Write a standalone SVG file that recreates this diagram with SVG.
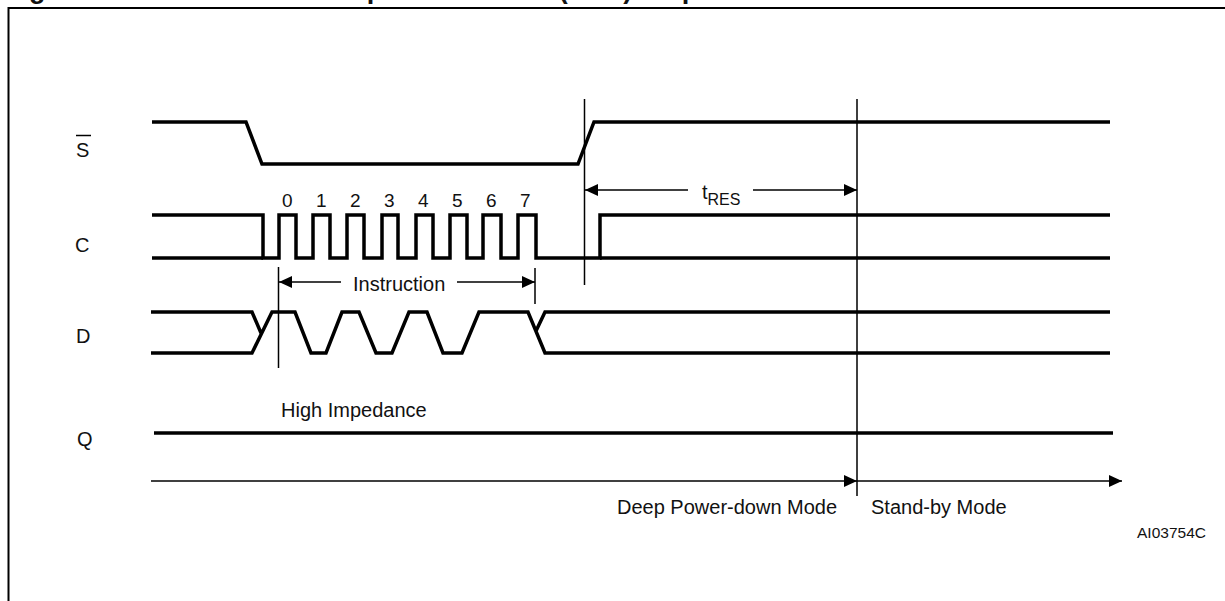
<svg xmlns="http://www.w3.org/2000/svg" width="1225" height="601" viewBox="0 0 1225 601">
<style>
text{font-family:"Liberation Sans",Arial,sans-serif;font-size:20px;fill:#111}
.w{fill:none;stroke:#000;stroke-width:3.5;stroke-linejoin:miter}
.t{fill:none;stroke:#000;stroke-width:1.5}
.d{font-size:19px}
</style>
<defs><marker id="a" markerUnits="userSpaceOnUse" markerWidth="14" markerHeight="14" refX="13" refY="7" orient="auto"><path d="M0 1L13 7L0 13z" fill="#000"/></marker></defs>
<rect width="1225" height="601" fill="#fff"/>
<text id="title" x="5" y="-2" style="font-weight:bold;font-size:27px">Figure 22. Release from Deep Power-down (RES) Sequence</text>
<path d="M8.500 601V8H1225" fill="none" stroke="#000" stroke-width="2"/>
<g id="connectors">
<path class="t" d="M584.500 99V285M857 99V496M278.500 267V368M535 268V304"/>
<path class="t" d="M341 282H279" marker-end="url(#a)"/>
<path class="t" d="M457 282H535" marker-end="url(#a)"/>
<path class="t" d="M688 190H585" marker-end="url(#a)"/>
<path class="t" d="M753 190H857" marker-end="url(#a)"/>
<path class="t" d="M151 481H857" marker-end="url(#a)"/>
<path class="t" d="M857 481H1122" marker-end="url(#a)"/>
</g>
<g id="signal-S"><path class="w" d="M152 122H246L262 164H578L594 122H1110"/><text x="76" y="157">S</text><path d="M76 135.500H91" stroke="#000" stroke-width="1.500"/></g>
<g id="signal-C"><path class="w" d="M152 215H263V258H279V215H296V258H313V215H330V258H347V215H364V258H382V215H398V258H416V215H433V258H450V215H467V258H483V215H501V258H518V215H536V258H600V215H1110"/><path class="w" d="M152 258H263"/><path class="w" d="M600 258H1110"/><text x="75" y="252">C</text></g>
<g id="clock-numbers"><text class="d" x="282" y="207">0</text><text class="d" x="316" y="207">1</text><text class="d" x="350" y="207">2</text><text class="d" x="384" y="207">3</text><text class="d" x="418" y="207">4</text><text class="d" x="452" y="207">5</text><text class="d" x="486" y="207">6</text><text class="d" x="520" y="207">7</text></g>
<g id="signal-D"><path class="w" d="M151 312H252L261 333M151 353H252L272 312H295L311 353H326L342 312H359L376 353H392L409 312H427L443 353H462L479 312H528L545 353H1110M536 331L545 312H1110"/><text x="76" y="343">D</text></g>
<g id="signal-Q"><path class="w" d="M154 433H1113"/><text x="77" y="446">Q</text></g>
<g id="labels">
<text x="353" y="291">Instruction</text>
<text x="702" y="199">t<tspan dy="6" font-size="16">RES</tspan></text>
<text x="281" y="417">High Impedance</text>
<text x="617" y="514">Deep Power-down Mode</text>
<text x="871" y="514">Stand-by Mode</text>
<text x="1137" y="538" style="font-size:15.500px">AI03754C</text>
</g>
</svg>
